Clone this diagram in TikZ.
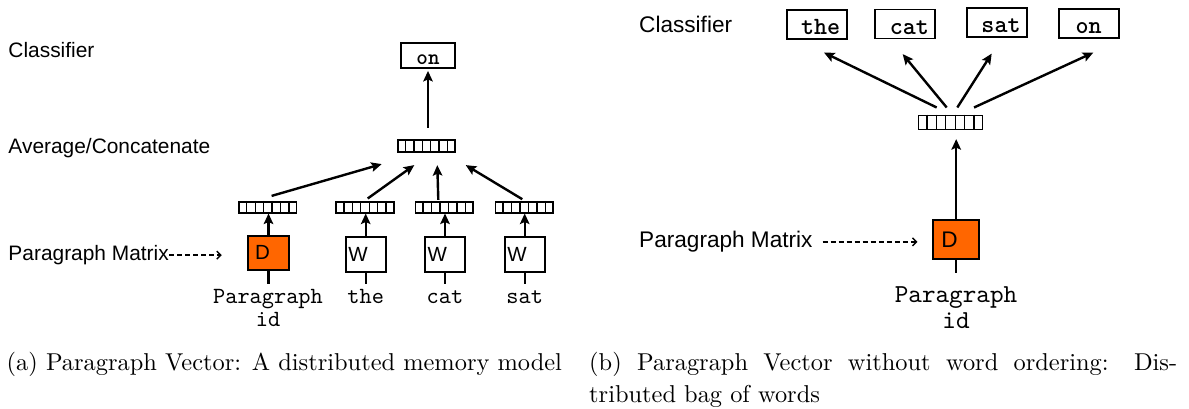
\documentclass[tikz,border=0pt]{standalone}
\usepackage{fontspec}
\usetikzlibrary{arrows.meta,calc}
\newfontfamily\sansf{Liberation Sans}
\newfontfamily\monof{lmmono10-regular}[Extension=.otf]
\newfontfamily\monobf{lmmonolt10-bold}[Extension=.otf]
\newfontfamily\capfont{lmroman10-regular}[Extension=.otf]
\definecolor{dorange}{RGB}{255,102,0}

% draw the six inner dividers of a seven-cell vector
\newcommand\vcells[1]{%
  \foreach \k in {1,...,6}{%
    \draw[line width=1.3pt] ($(#1.north west)!\k/7!(#1.north east)$) -- ($(#1.south west)!\k/7!(#1.south east)$);}}

\tikzset{
  box/.style={draw, line width=1.8pt, inner sep=0pt},
  vecbox/.style={draw, line width=1.6pt, inner sep=0pt, minimum width=57.5pt, minimum height=11pt},
  arr/.style={line width=2.4pt, -{Stealth[length=10.5pt,width=9.5pt,inset=2pt]}},
  stem/.style={line width=2.4pt},
  dasharr/.style={line width=1.4pt, dash pattern=on 5pt off 3pt, -{Straight Barb[length=4pt,width=8pt]}},
  slbl/.style={inner sep=0pt, anchor=base west, font=\sansf\fontsize{20.9}{25}\selectfont},
  slblR/.style={inner sep=0pt, anchor=base west, font=\sansf\fontsize{22.6}{27}\selectfont},
  wordL/.style={anchor=north, inner xsep=0pt, inner ysep=4.8pt, font=\monof\fontsize{23.2}{23}\selectfont},
  wordR/.style={anchor=north, inner xsep=0pt, inner ysep=13.6pt, font=\monof\fontsize{25.9}{25.6}\selectfont},
  outL/.style={box, minimum width=54pt, minimum height=25.6pt, text height=17pt, text depth=0pt, font=\monobf\fontsize{22}{24}\selectfont},
  outR/.style={box, minimum width=60pt, minimum height=29pt, text height=20pt, text depth=0pt, font=\monobf\fontsize{24.8}{26}\selectfont},
  dboxL/.style={box, fill=dorange, minimum height=34.3pt, inner xsep=7pt, text width=27pt, align=left, font=\sansf\fontsize{20.5}{24}\selectfont},
  wbox/.style={box, fill=white, minimum height=35pt, inner xsep=2.6pt, text width=34.8pt, align=left, font=\sansf\fontsize{20.5}{24}\selectfont},
  captext/.style={inner sep=0pt, anchor=base west, font=\capfont\fontsize{24.4}{29}\selectfont}
}

\begin{document}
\begin{tikzpicture}[x=1pt,y=-1pt]
\useasboundingbox (0,0) rectangle (1189,408);

% ---------- (a) distributed memory model ----------
\node[slbl] (clsL) at (8.3,57) {Classifier};
\node[slbl] (avgtxtL) at (8.3,153) {Average/Concatenate};
\node[slbl] (pmL) at (8.3,260.5) {Paragraph Matrix};

\node[outL] (onL) at (428,55.5) {on};
\node[vecbox, minimum width=57pt, minimum height=12pt] (avgL) at (426.5,146) {};
\vcells{avgL}

\node[vecbox] (dvL) at (267.9,207.2) {};
\node[vecbox] (tvL) at (365,207.2) {};
\node[vecbox] (cvL) at (444.2,207.2) {};
\node[vecbox] (svL) at (524.2,207.2) {};
\vcells{dvL}\vcells{tvL}\vcells{cvL}\vcells{svL}

\node[dboxL] (DL) at (268.5,252.9) {D};
\node[wbox] (W1) at (365.7,254.2) {W};
\node[wbox] (W2) at (445,254.2) {W};
\node[wbox] (W3) at (524.7,254.2) {W};

\node[wordL, align=center] (pidL) at (268,284) {Paragraph\\id};
\node[wordL, text height=14.2pt] (theL) at (365.7,284) {the};
\node[wordL, text height=14.2pt] (catL) at (445,284) {cat};
\node[wordL, text height=14.2pt] (satL) at (524.7,284) {sat};

\draw[stem] (DL.south) -- (DL.south |- pidL.north);
\draw[stem] (W1.south) -- (theL.north);
\draw[stem] (W2.south) -- (catL.north);
\draw[stem] (W3.south) -- (satL.north);

\draw[arr] (DL.north) -- (DL.north |- dvL.south);
\draw[arr] (W1.north) -- (W1.north |- tvL.south);
\draw[arr] (W2.north) -- (W2.north |- cvL.south);
\draw[arr] (W3.north) -- (W3.north |- svL.south);

\draw[arr] ([xshift=3.7pt,yshift=5pt]dvL.north) -- ([xshift=-44.8pt,yshift=-11.3pt]avgL.south);
\draw[arr] ([xshift=2.7pt,yshift=2.4pt]tvL.north) -- ([xshift=-12.2pt,yshift=-12.3pt]avgL.south);
\draw[arr] ([xshift=-5.9pt,yshift=1pt]cvL.north) -- ([xshift=10.8pt,yshift=-12.3pt]avgL.south);
\draw[arr] ([xshift=-1.9pt,yshift=1.7pt]svL.north) -- ([xshift=39.2pt,yshift=-12.3pt]avgL.south);

\draw[arr] ([xshift=1.5pt,yshift=11.7pt]avgL.north) -- ([yshift=-1.7pt]onL.south);

\draw[dasharr] (pmL.east) -- ($(DL.west |- pmL.east)+(-25.3,0)$);

% ---------- (b) distributed bag of words ----------
\node[slblR] (clsR) at (639,32.7) {Classifier};
\node[slblR] (pmR) at (639,247.7) {Paragraph Matrix};

\node[outR] (theR) at (816.7,24.5) {\hspace*{8pt}the};
\node[outR] (catR) at (905.3,24) {\hspace*{8pt}cat};
\node[outR] (satR) at (997,22.8) {\hspace*{8pt}sat};
\node[outR] (onR) at (1088.7,23.8) {on};

\node[vecbox, minimum width=64pt, minimum height=14pt] (avgR) at (950.5,122.3) {};
\vcells{avgR}

\node[box, fill=dorange, minimum height=39.3pt, inner xsep=8pt, text width=29.7pt, align=left, font=\sansf\fontsize{22.6}{26}\selectfont] (DR) at (956.2,239.7) {D};
\node[wordR, align=center] (pidR) at (956,273.3) {Paragraph\\id};

\draw[stem] (DR.south) -- (DR.south |- pidR.north);
\draw[arr] (DR.north) -- ([yshift=-9pt]avgR.south -| DR.north);

\draw[arr] ([xshift=-13.8pt,yshift=7pt]avgR.north) -- ([xshift=7.3pt,yshift=-12.7pt]theR.south);
\draw[arr] ([xshift=-3.8pt,yshift=7pt]avgR.north) -- ([xshift=-2.6pt,yshift=-14.7pt]catR.south);
\draw[arr] ([xshift=6.8pt,yshift=7pt]avgR.north) -- ([xshift=-5.3pt,yshift=-15.4pt]satR.south);
\draw[arr] ([xshift=23.5pt,yshift=7pt]avgR.north) -- ([xshift=4.6pt,yshift=-13.4pt]onR.south);

\draw[dasharr] ($(pmR.east)+(10,0)$) -- ($(DR.west |- pmR.east)+(-15,0)$);

% ---------- captions ----------
\node[captext] (capA) at (6.5,370) {(a) Paragraph Vector: A distributed memory model};
\node[captext] (capB1) at (589,370) {\makebox[588pt][s]{(b) Paragraph Vector without word ordering: Dis-}};
\node[captext] (capB2) at (589,402) {tributed bag of words};
\end{tikzpicture}
\end{document}
